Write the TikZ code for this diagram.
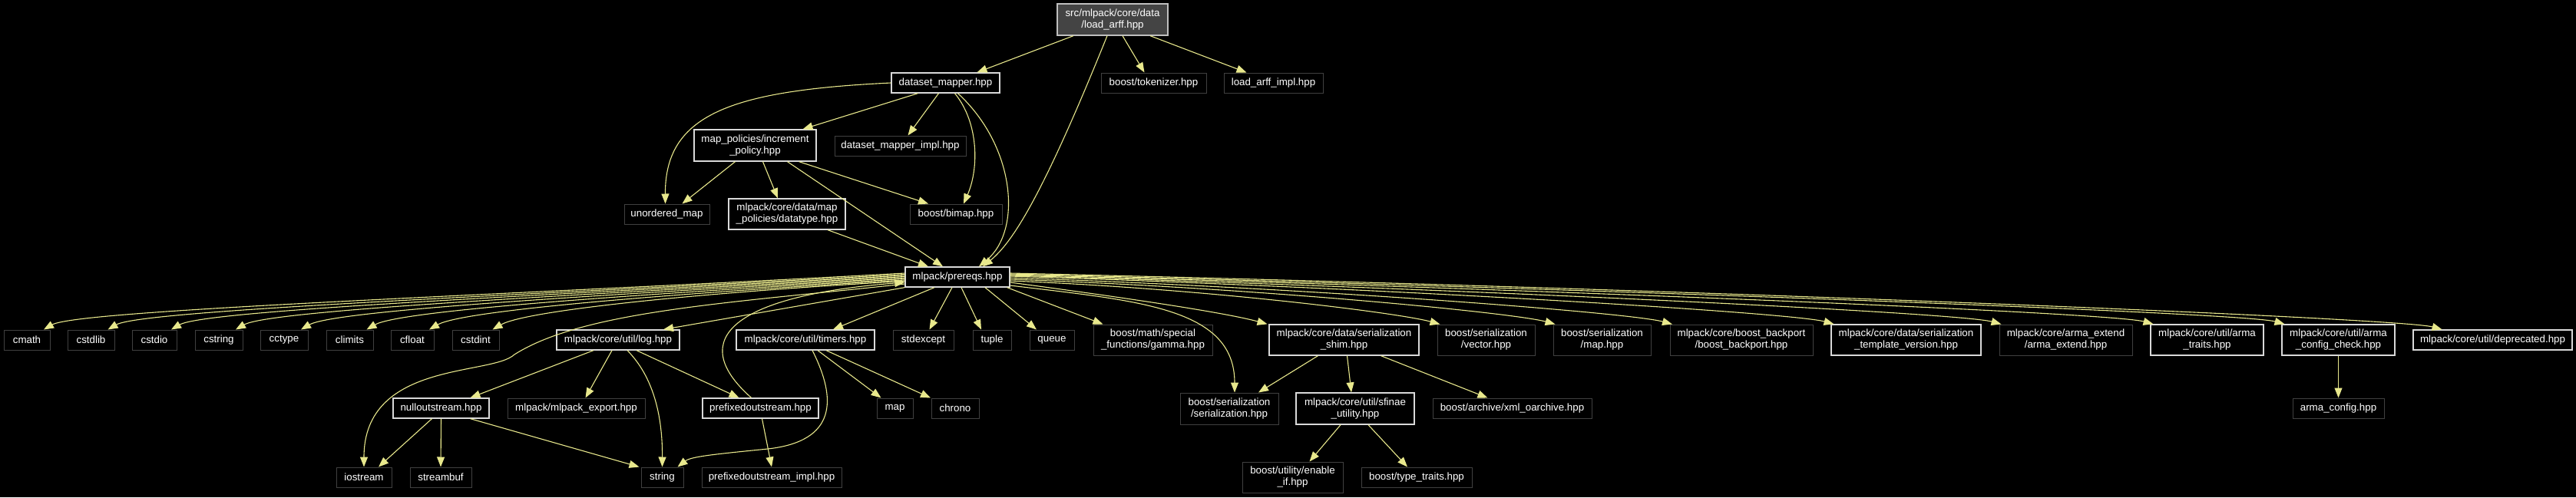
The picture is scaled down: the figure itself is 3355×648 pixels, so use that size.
\documentclass[tikz,border=0pt]{standalone}
\usepackage{fontspec}
\setmainfont{Liberation Sans}
\usetikzlibrary{arrows.meta}

\definecolor{edgeyellow}{RGB}{232,232,140}
\definecolor{rootgray}{RGB}{68,68,68}
\definecolor{boxline}{RGB}{64,64,64}

\begin{document}
\begin{tikzpicture}[x = 1pt, y = -1pt, > = {Triangle[length = 13pt, width = 10pt]},
	file/.style = {draw = boxline, line width = 1pt, fill = black, text = white, font = \fontsize{13.33}{15}\selectfont, align = center, inner sep = 0pt, minimum height = 26},
	docfile/.style = {file, draw = white!85!black, line width = 1.3pt},
	edge/.style = {draw = edgeyellow, line width = 1.1pt, ->}]

	% Background
	
	\fill [black] (0, 0) rectangle (3355, 648);
	\useasboundingbox (0, 0) rectangle (3355, 648);

	% The header itself and what it pulls in
	
	\node [docfile, fill = rootgray, draw = white!75!black, minimum width = 144, minimum height = 41] (root) at (1449, 25.5) {src/mlpack/core/data\\/load\_arff.hpp};
	
	\node [docfile, minimum width = 141] (dmap) at (1231.5, 108) {dataset\_mapper.hpp};
	\node [file, minimum width = 137] (tokenizer) at (1502.5, 108) {boost/tokenizer.hpp};
	\node [file, minimum width = 129] (arffimpl) at (1658.5, 108) {load\_arff\_impl.hpp};
	
	\node [docfile, minimum width = 159, minimum height = 41] (incpolicy) at (983.5, 189.5) {map\_policies/increment\\\_policy.hpp};
	\node [file, minimum width = 171] (dmapimpl) at (1172.5, 190) {dataset\_mapper\_impl.hpp};
	
	\node [file, minimum width = 111] (umap) at (868.5, 279) {unordered\_map};
	\node [docfile, minimum width = 152, minimum height = 40] (datatype) at (1025, 279) {mlpack/core/data/map\\\_policies/datatype.hpp};
	\node [file, minimum width = 120] (bimap) at (1245, 279) {boost/bimap.hpp};
	
	\node [docfile, minimum width = 136] (prereqs) at (1247, 361) {mlpack/prereqs.hpp};
	
	% Row of headers under prereqs.hpp
	
	\foreach \name/\x/\w in {cmath/35/60, cstdlib/118.5/61, cstdio/201/58, cstring/285/62, cctype/370/62, climits/455.5/61, cfloat/537/56, cstdint/619.5/61, stdexcept/1202.5/79, tuple/1292/50, queue/1370/58}
	{
		\node [file, minimum width = \w] (\name) at (\x, 443) {\name};
	}
	
	\node [docfile, minimum width = 160] (log) at (805, 443) {mlpack/core/util/log.hpp};
	\node [docfile, minimum width = 180] (timers) at (1049, 443) {mlpack/core/util/timers.hpp};
	\node [file, minimum width = 155, minimum height = 40] (gamma) at (1501.5, 443) {boost/math/special\\\_functions/gamma.hpp};
	\node [docfile, minimum width = 195, minimum height = 40] (shim) at (1750.5, 443) {mlpack/core/data/serialization\\\_shim.hpp};
	\node [file, minimum width = 127, minimum height = 40] (vector) at (1935.5, 443) {boost/serialization\\/vector.hpp};
	\node [file, minimum width = 127, minimum height = 40] (maphpp) at (2086.5, 443) {boost/serialization\\/map.hpp};
	\node [file, minimum width = 186, minimum height = 40] (backport) at (2268, 443) {mlpack/core/boost\_backport\\/boost\_backport.hpp};
	\node [docfile, minimum width = 195, minimum height = 40] (tmplver) at (2482.5, 443) {mlpack/core/data/serialization\\\_template\_version.hpp};
	\node [file, minimum width = 173, minimum height = 40] (armaext) at (2690.5, 443) {mlpack/core/arma\_extend\\/arma\_extend.hpp};
	\node [docfile, minimum width = 147, minimum height = 40] (armatraits) at (2874.5, 443) {mlpack/core/util/arma\\\_traits.hpp};
	\node [docfile, minimum width = 147, minimum height = 40] (armacfgchk) at (3045.5, 443) {mlpack/core/util/arma\\\_config\_check.hpp};
	\node [docfile, minimum width = 207] (deprecated) at (3246.5, 443) {mlpack/core/util/deprecated.hpp};
	
	% Second row down
	
	\node [docfile, minimum width = 125] (nullout) at (574.5, 532) {nulloutstream.hpp};
	\node [file, minimum width = 179] (export) at (750.5, 532) {mlpack/mlpack\_export.hpp};
	\node [docfile, minimum width = 151] (prefixed) at (990.5, 532) {prefixedoutstream.hpp};
	\node [file, minimum width = 47] (map) at (1165.5, 532) {map};
	\node [file, minimum width = 62] (chrono) at (1244, 532) {chrono};
	\node [file, minimum width = 128, minimum height = 41] (serialization) at (1601, 532.5) {boost/serialization\\/serialization.hpp};
	\node [docfile, minimum width = 154, minimum height = 41] (sfinae) at (1765, 532.5) {mlpack/core/util/sfinae\\\_utility.hpp};
	\node [file, minimum width = 207] (xmlarch) at (1969.5, 532) {boost/archive/xml\_oarchive.hpp};
	\node [file, minimum width = 119] (armacfg) at (3045.5, 532) {arma\_config.hpp};
	
	% Bottom row
	
	\node [file, minimum width = 72] (iostream) at (474, 622) {iostream};
	\node [file, minimum width = 80] (streambuf) at (574, 622) {streambuf};
	\node [file, minimum width = 55] (string) at (862.5, 622) {string};
	\node [file, minimum width = 182] (prefimpl) at (1005, 622) {prefixedoutstream\_impl.hpp};
	\node [file, minimum width = 131, minimum height = 40] (enableif) at (1683.5, 622) {boost/utility/enable\\\_if.hpp};
	\node [file, minimum width = 144] (typetraits) at (1845, 622) {boost/type\_traits.hpp};

	% Includes of load_arff.hpp
	
	\draw [edge] ([xshift = -51pt] root.south) -- ([xshift = 41pt] dmap.north);
	\draw [edge] ([xshift = -7pt] root.south) .. controls (1360, 250) and (1320, 315) .. ([xshift = 33pt] prereqs.north);
	\draw [edge] ([xshift = 13pt] root.south) -- ([xshift = -12pt] tokenizer.north);
	\draw [edge] ([xshift = 49pt] root.south) -- ([xshift = -35pt] arffimpl.north);
	
	% dataset_mapper.hpp
	
	\draw [edge] (dmap.west) .. controls (950, 118) and (866, 150) .. ([xshift = -2pt] umap.north);
	\draw [edge] ([xshift = -36pt] dmap.south) -- ([xshift = 62pt] incpolicy.north);
	\draw [edge] ([xshift = -9pt] dmap.south) -- ([xshift = 10pt] dmapimpl.north);
	\draw [edge] ([xshift = 12pt] dmap.south) .. controls (1275, 160) and (1275, 220) .. ([xshift = 10pt] bimap.north);
	\draw [edge] ([xshift = 16pt] dmap.south) .. controls (1322, 190) and (1332, 300) .. ([xshift = 28pt] prereqs.north);
	
	% increment_policy.hpp and datatype.hpp
	
	\draw [edge] ([xshift = -26pt] incpolicy.south) -- ([xshift = 20pt] umap.north);
	\draw [edge] ([xshift = 10pt] incpolicy.south) -- ([xshift = -12pt] datatype.north);
	\draw [edge] ([xshift = 42pt] incpolicy.south) -- ([xshift = -19pt] prereqs.north);
	\draw [edge] ([xshift = 57pt] incpolicy.south) -- ([xshift = -36pt] bimap.north);
	\draw [edge] ([xshift = 53pt] datatype.south) -- ([xshift = -38pt] prereqs.north);
	
	% prereqs.hpp, fan to the left
	
	\foreach \name/\dy/\a/\b in {cmath/5/505/28, cstdlib/3.5/467/26, cstdio/2/430/24, cstring/0.5/392/22, cctype/-1/354/20, climits/-2.5/315/18, cfloat/-4/279/16, cstdint/-5.5/242/13}
	{
		\draw [edge] ([yshift = \dy] prereqs.west) .. controls +(-\a, \b) and +(45, -26) .. ([xshift = 22pt] \name.north);
	}
	
	% prereqs.hpp, fan to the right
	
	\foreach \name/\dx/\dy/\a/\b in {shim/-100/-7/150/20, vector/-60/-5/252/10, maphpp/-61/-3/320/11, backport/-90/-1/388/13, tmplver/-94/1/483/15, armaext/-84/2/581/17, armatraits/-70/3/670/18, armacfgchk/-70/4/747/19, deprecated/-66/5/840/19}
	{
		\draw [edge] ([yshift = \dy] prereqs.east) .. controls +(\a, \b) and +(-55, -15) .. ([xshift = \dx] \name.north);
	}
	
	% prereqs.hpp, the near ones
	
	\draw [edge] (prereqs.south west) -- ([xshift = 59pt] log.north);
	\draw [edge] ([xshift = -30pt] prereqs.south) -- ([xshift = 36pt] timers.north);
	\draw [edge] ([xshift = -7pt] prereqs.south) -- ([xshift = 8pt] stdexcept.north);
	\draw [edge] ([xshift = 5pt] prereqs.south) -- ([xshift = -14pt] tuple.north);
	\draw [edge] ([xshift = 36pt] prereqs.south) -- ([xshift = -20pt] queue.north);
	\draw [edge] ([xshift = -4pt] prereqs.south east) -- ([xshift = -65pt] gamma.north);
	\draw [edge] ([yshift = -11pt] prereqs.east) .. controls (1480, 392) and (1608, 400) .. ([xshift = 7pt] serialization.north);
	\draw [edge] ([yshift = -9pt] prereqs.west) .. controls (950, 395) and (760, 405) .. (670, 462) .. controls (640, 490) and (474, 470) .. (iostream.north);
	
	% log.hpp
	
	\draw [edge] ([xshift = -32pt] log.south) -- ([xshift = 38pt] nullout.north);
	\draw [edge] ([xshift = -8pt] log.south) -- ([xshift = 12pt] export.north);
	\draw [edge] ([xshift = 12pt] log.south) .. controls (850, 490) and (863, 540) .. (string.north);
	\draw [edge] ([xshift = 24pt] log.south) -- ([xshift = -28pt] prefixed.north);
	
	% nulloutstream.hpp and prefixedoutstream.hpp
	
	\draw [edge] ([xshift = -12pt] nullout.south) -- ([xshift = 19pt] iostream.north);
	\draw [edge] (nullout.south) -- (streambuf.north);
	\draw [edge] ([xshift = 38pt] nullout.south) -- ([xshift = -30pt] string.north);
	\draw [edge] ([xshift = -12pt] prefixed.north) .. controls (890, 440) and (960, 385) .. ([yshift = -7pt] prereqs.west);
	\draw [edge] ([xshift = 2pt] prefixed.south) -- (prefimpl.north);
	
	% timers.hpp
	
	\draw [edge] ([xshift = 16pt] timers.south) -- ([xshift = -18pt] map.north);
	\draw [edge] ([xshift = 27pt] timers.south) -- ([xshift = -32pt] chrono.north);
	\draw [edge] ([xshift = 9pt] timers.south) .. controls (1090, 520) and (1090, 575) .. (1000, 585) .. controls (930, 592) and (900, 595) .. ([xshift = 20pt] string.north);
	
	% serialization_shim.hpp and sfinae_utility.hpp
	
	\draw [edge] ([xshift = -34pt] shim.south) -- ([xshift = 38pt] serialization.north);
	\draw [edge] ([xshift = 4pt] shim.south) -- ([xshift = -5pt] sfinae.north);
	\draw [edge] ([xshift = 48pt] shim.south) -- ([xshift = -32pt] xmlarch.north);
	\draw [edge] ([xshift = -19pt] sfinae.south) -- ([xshift = 22pt] enableif.north);
	\draw [edge] ([xshift = 17pt] sfinae.south) -- ([xshift = -12pt] typetraits.north);
	
	% arma_config_check.hpp
	
	\draw [edge] (armacfgchk) -- (armacfg);

\end{tikzpicture}
\end{document}
